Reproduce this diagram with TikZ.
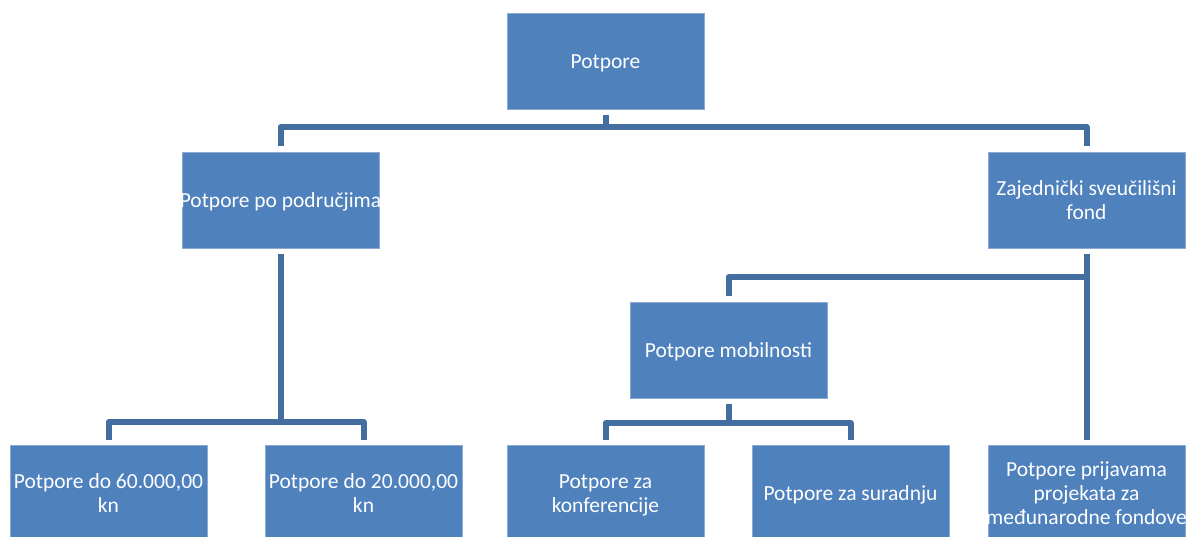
\documentclass[tikz,border=0pt]{standalone}
\usepackage{fontspec}
\setmainfont{Carlito}
\usetikzlibrary{calc}
\definecolor{boxfill}{RGB}{79,129,189}
\definecolor{boxedge}{RGB}{140,170,212}
\definecolor{conn}{RGB}{68,109,160}
\tikzset{
  orgbox/.style={draw=boxedge, line width=0.8pt, fill=boxfill, minimum width=197pt, minimum height=96pt,
    inner sep=0pt, text=white, align=center, font=\fontsize{21.5}{24}\selectfont},
  link/.style={draw=conn, line width=6pt, line join=round}
}
\newcommand{\lowered}[1]{\makebox[180pt][c]{\raisebox{-3pt}[\height][\depth]{\begin{tabular}{@{}c@{}}#1\end{tabular}}}}
\begin{document}
\begin{tikzpicture}[x=1pt,y=-1pt]
\useasboundingbox (0,0) rectangle (1188,536);
\node[orgbox] (top) at (605.5,61) {\lowered{Potpore}};
\node[orgbox] (podr) at (280.5,200) {\lowered{Potpore po područjima}};
\node[orgbox] (zaj) at (1086.5,200) {\lowered{Zajednički sveučilišni\\fond}};
\node[orgbox] (mob) at (728.5,350) {\lowered{Potpore mobilnosti}};
\node[orgbox] (b1) at (108.5,493) {\lowered{Potpore do 60.000,00\\kn}};
\node[orgbox] (b2) at (363.5,493) {\lowered{Potpore do 20.000,00\\kn}};
\node[orgbox] (b3) at (605.5,493) {\lowered{Potpore za\\konferencije}};
\node[orgbox] (b4) at (850.5,493) {\lowered{Potpore za suradnju}};
\node[orgbox] (b5) at (1086.5,493) {\lowered{Potpore prijavama\\projekata za\\međunarodne fondove}};
% top level
\coordinate (h1) at (605.5,127);
\draw[link] ($(top.south)+(0,6)$) -- (h1);
\draw[link] ($(podr.north)+(0,-6)$) |- (h1) -| ($(zaj.north)+(0,-6)$);
% left branch
\coordinate (h2) at (280.5,422);
\draw[link] ($(podr.south)+(0,6)$) -- (h2);
\draw[link] ($(b1.north)+(0,-5)$) |- (h2) -| ($(b2.north)+(0,-5)$);
% right branch
\coordinate (h3) at (1086.5,277);
\draw[link] ($(zaj.south)+(0,6)$) -- ($(b5.north)+(0,-5)$);
\draw[link] ($(mob.north)+(0,-6)$) |- (h3);
% mobility branch
\coordinate (h4) at (728.5,423);
\draw[link] ($(mob.south)+(0,6)$) -- (h4);
\draw[link] ($(b3.north)+(0,-5)$) |- (h4) -| ($(b4.north)+(0,-5)$);
\end{tikzpicture}
\end{document}
